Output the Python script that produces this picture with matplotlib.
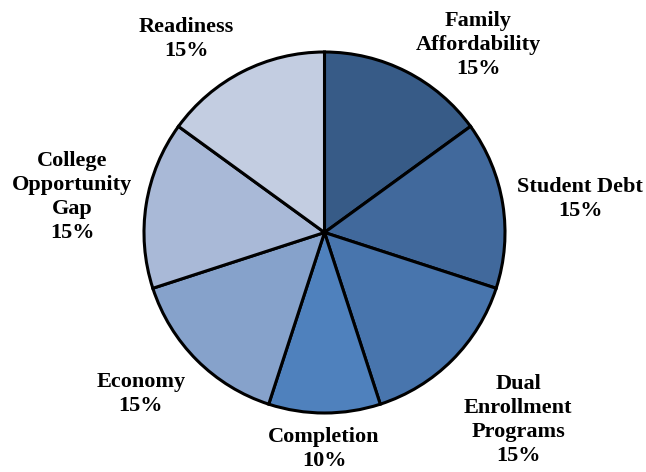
import matplotlib
matplotlib.use("Agg")
import matplotlib.pyplot as plt

categories = ["Family\nAffordability", "Student Debt", "Dual\nEnrollment\nPrograms",
              "Completion", "Economy", "College\nOpportunity\nGap", "Readiness"]
values = [15, 15, 15, 10, 15, 15, 15]
colors = ["#375B87", "#41699C", "#4875AD", "#4F81BD", "#86A2CB", "#A9B9D7", "#C3CDE1"]

# label block centres in pixel coordinates (layout only)
label_px = [(478, 45), (580, 199), (518, 420), (324, 449), (141, 394), (72, 197), (186, 39)]

W, H = 646, 472
cx, cy, r = 324.5, 232.5, 180.5

fig = plt.figure(figsize=(W / 100, H / 100), dpi=100)
ax = fig.add_axes([(cx - r) / W, (H - cy - r) / H, 2 * r / W, 2 * r / H])
ax.pie(values, colors=colors, startangle=90, counterclock=False, radius=1.0,
       wedgeprops=dict(edgecolor="black", linewidth=2.2))
ax.set_xlim(-1, 1)
ax.set_ylim(-1, 1)
ax.set_aspect("equal")
ax.axis("off")

for cat, val, (px, py) in zip(categories, values, label_px):
    x = (px - cx) / r
    y = (cy - py) / r
    ax.text(x, y, f"{cat}\n{val}%", ha="center", va="center", multialignment="center",
            family=["Liberation Serif", "DejaVu Serif"], fontweight="bold", fontsize=16,
            linespacing=1.25, clip_on=False)

fig.savefig("out.png", dpi=100)
